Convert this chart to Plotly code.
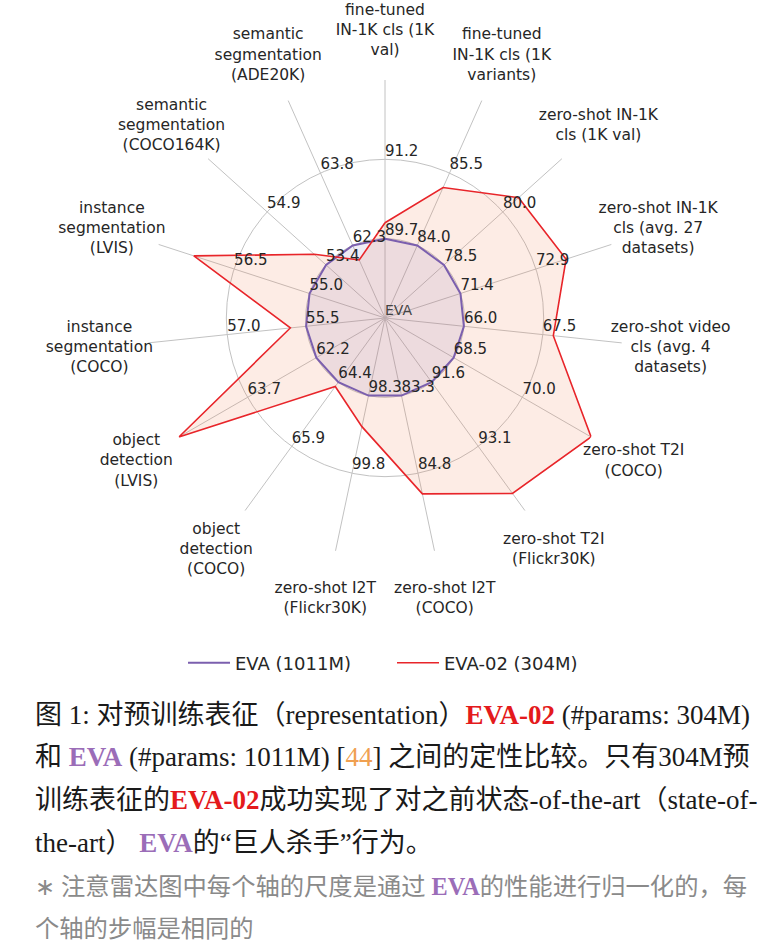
import plotly.graph_objects as go

# ---------------- data ----------------
categories = [
    "fine-tuned IN-1K cls (1K val)",
    "fine-tuned IN-1K cls (1K variants)",
    "zero-shot IN-1K cls (1K val)",
    "zero-shot IN-1K cls (avg. 27 datasets)",
    "zero-shot video cls (avg. 4 datasets)",
    "zero-shot T2I (COCO)",
    "zero-shot T2I (Flickr30K)",
    "zero-shot I2T (COCO)",
    "zero-shot I2T (Flickr30K)",
    "object detection (COCO)",
    "object detection (LVIS)",
    "instance segmentation (COCO)",
    "instance segmentation (LVIS)",
    "semantic segmentation (COCO164K)",
    "semantic segmentation (ADE20K)",
]
category_labels = [
    "fine-tuned<br>IN-1K cls (1K<br>val)",
    "fine-tuned<br>IN-1K cls (1K<br>variants)",
    "zero-shot IN-1K<br>cls (1K val)",
    "zero-shot IN-1K<br>cls (avg. 27<br>datasets)",
    "zero-shot video<br>cls (avg. 4<br>datasets)",
    "zero-shot T2I<br>(COCO)",
    "zero-shot T2I<br>(Flickr30K)",
    "zero-shot I2T<br>(COCO)",
    "zero-shot I2T<br>(Flickr30K)",
    "object<br>detection<br>(COCO)",
    "object<br>detection<br>(LVIS)",
    "instance<br>segmentation<br>(COCO)",
    "instance<br>segmentation<br>(LVIS)",
    "semantic<br>segmentation<br>(COCO164K)",
    "semantic<br>segmentation<br>(ADE20K)",
]
eva_values = [89.7, 84.0, 78.5, 71.4, 66.0, 68.5, 91.6, 83.3, 98.3, 64.4, 62.2, 55.5, 55.0, 53.4, 62.3]
eva02_values = [90.0, 85.2, 80.4, 73.5, 67.7, 71.5, 94.2, 85.2, 98.9, 64.5, 65.2, 55.8, 57.3, 53.7, 62.0]
ring1_labels = ["89.7", "84.0", "78.5", "71.4", "66.0", "68.5", "91.6", "83.3", "98.3", "64.4", "62.2", "55.5", "55.0", "53.4", "62.3"]
ring2_labels = ["91.2", "85.5", "80.0", "72.9", "67.5", "70.0", "93.1", "84.8", "99.8", "65.9", "63.7", "57.0", "56.5", "54.9", "63.8"]
step = 1.5  # same step on every axis
series_names = ["EVA (1011M)", "EVA-02 (304M)"]

# ---------------- styles ----------------
PURPLE = "#7b5fae"
RED = "#e8252a"
GRID = "#c2c2c2"
TXT = "#262626"
CHART_FONT = "DejaVu Sans"

R_MAX = 3.0        # radial range of the chart (EVA on ring 1)
R_LABEL = 3.62     # where the axis names sit
R_LABEL_MAX = 3.7


def norm(vals):
    # each axis normalised by EVA's value; EVA sits on ring 1
    return [1 + (v - e) / step for v, e in zip(vals, eva_values)]


theta_closed = categories + categories[:1]
eva_r = norm(eva_values)
eva02_r = norm(eva02_values)

fig = go.Figure()

# EVA-02 fill
fig.add_trace(go.Scatterpolar(
    r=eva02_r + eva02_r[:1], theta=theta_closed, mode="lines", fill="toself",
    fillcolor="rgba(240,128,80,0.15)", line=dict(width=0, color="rgba(0,0,0,0)"),
    showlegend=False, hoverinfo="skip", cliponaxis=False))
# EVA fill
fig.add_trace(go.Scatterpolar(
    r=eva_r + eva_r[:1], theta=theta_closed, mode="lines", fill="toself",
    fillcolor="rgba(126,95,176,0.12)", line=dict(width=0, color="rgba(0,0,0,0)"),
    showlegend=False, hoverinfo="skip", cliponaxis=False))
# EVA line
fig.add_trace(go.Scatterpolar(
    r=eva_r + eva_r[:1], theta=theta_closed, mode="lines",
    line=dict(width=2, color=PURPLE), name=series_names[0], cliponaxis=False))
# EVA-02 line
fig.add_trace(go.Scatterpolar(
    r=eva02_r + eva02_r[:1], theta=theta_closed, mode="lines",
    line=dict(width=1.6, color=RED), name=series_names[1], cliponaxis=False))

# ring value labels
fig.add_trace(go.Scatterpolar(
    r=[1] * len(categories) + [2] * len(categories), theta=categories + categories,
    mode="text", text=ring1_labels + ring2_labels, textposition="top right",
    textfont=dict(family=CHART_FONT, size=15, color=TXT),
    showlegend=False, hoverinfo="skip", cliponaxis=False))
# centre label
fig.add_trace(go.Scatterpolar(
    r=[0], theta=categories[:1], mode="text", text=["EVA"], textposition="top right",
    textfont=dict(family=CHART_FONT, size=14, color="#444444"),
    showlegend=False, hoverinfo="skip", cliponaxis=False))
# axis (category) labels on an overlaid, larger polar frame
fig.add_trace(go.Scatterpolar(
    r=[R_LABEL] * len(categories), theta=categories, mode="text", text=category_labels,
    textposition="middle center", subplot="polar2",
    textfont=dict(family=CHART_FONT, size=15.5, color=TXT),
    showlegend=False, hoverinfo="skip", cliponaxis=False))

W, H = 766, 945
cx, cy, R = 385, 318, 238
R2 = R * R_LABEL_MAX / R_MAX

angular_common = dict(type="category", categoryorder="array", categoryarray=categories,
                      direction="clockwise", rotation=90, showticklabels=False,
                      ticks="", showline=False)

fig.update_layout(
    width=W, height=H, margin=dict(l=0, r=0, t=0, b=0),
    paper_bgcolor="white", plot_bgcolor="white",
    polar=dict(
        domain=dict(x=[(cx - R) / W, (cx + R) / W], y=[1 - (cy + R) / H, 1 - (cy - R) / H]),
        bgcolor="rgba(0,0,0,0)",
        radialaxis=dict(range=[0, R_MAX], tickvals=[1, 2], showticklabels=False, ticks="",
                        showline=False, gridcolor=GRID, gridwidth=1),
        angularaxis=dict(gridcolor=GRID, gridwidth=1, **angular_common),
    ),
    polar2=dict(
        domain=dict(x=[(cx - R2) / W, (cx + R2) / W], y=[1 - (cy + R2) / H, 1 - (cy - R2) / H]),
        bgcolor="rgba(0,0,0,0)",
        radialaxis=dict(range=[0, R_LABEL_MAX], showgrid=False, showticklabels=False,
                        ticks="", showline=False),
        angularaxis=dict(showgrid=False, **angular_common),
    ),
    legend=dict(orientation="h", x=392 / W, xanchor="center",
                y=1 - 663 / H, yanchor="middle", itemwidth=42,
                entrywidth=152,
                font=dict(family=CHART_FONT, size=18, color=TXT), bgcolor="rgba(0,0,0,0)"),
)

# ---------------- caption ----------------
CAP_FONT = "Liberation Serif, 'Noto Sans CJK SC'"
C_RED = "#e41a1c"
C_PUR = "#9b6db8"
C_ORG = "#f0a050"
caption_lines = [
    f"图 1: 对预训练表征（representation）<span style='color:{C_RED}'><b>EVA-02</b></span> (#params: 304M)",
    f"和 <span style='color:{C_PUR}'><b>EVA</b></span> (#params: 1011M) [<span style='color:{C_ORG}'>44</span>] 之间的定性比较。只有304M预",
    f"训练表征的<span style='color:{C_RED}'><b>EVA-02</b></span>成功实现了对之前状态-of-the-art（state-of-",
    f"the-art） <span style='color:{C_PUR}'><b>EVA</b></span>的“巨人杀手”行为。",
]
note_lines = [
    f"∗ 注意雷达图中每个轴的尺度是通过 <span style='color:{C_PUR}'><b>EVA</b></span>的性能进行归一化的，每",
    "个轴的步幅是相同的",
]
cap_y = [715, 757, 800, 843]
note_y = [886, 928]
for txt, yy in zip(caption_lines, cap_y):
    fig.add_annotation(text=txt, xref="paper", yref="paper", x=33 / W, y=1 - yy / H,
                       xanchor="left", yanchor="middle", showarrow=False,
                       font=dict(family=CAP_FONT, size=27, color="#1a1a1a"))
for txt, yy in zip(note_lines, note_y):
    fig.add_annotation(text=txt, xref="paper", yref="paper", x=33 / W, y=1 - yy / H,
                       xanchor="left", yanchor="middle", showarrow=False,
                       font=dict(family=CAP_FONT, size=24.3, color="#8a8a8a"))

# remove the browser's default 8px page margin so the figure fills the window
fig.write_html("out.html", config={"displayModeBar": False},
               post_script="document.body.style.margin='0';")
